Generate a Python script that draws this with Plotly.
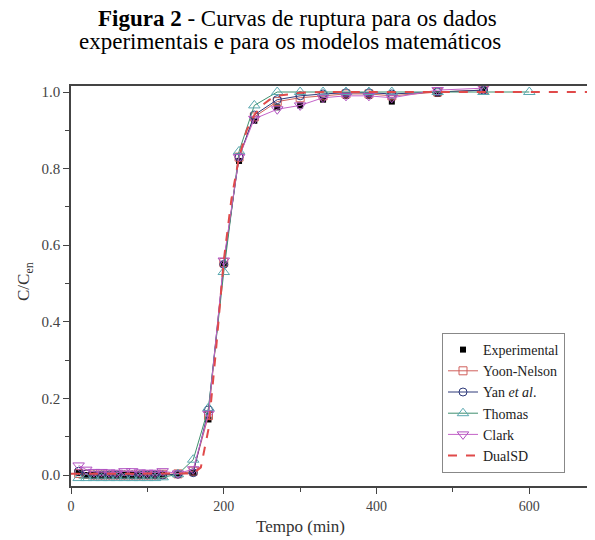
import plotly.graph_objects as go

# ---------------- data ----------------
t = [10, 20, 30, 40, 50, 60, 70, 80, 90, 100, 110, 120, 140, 160, 180, 200,
     220, 240, 270, 300, 330, 360, 390, 420, 480, 540]
t_thomas = t + [600]

experimental = [0.005, 0.0, 0.0, 0.0, 0.0, 0.0, 0.0, 0.0, 0.0, 0.0, 0.0, 0.002,
                0.002, 0.005, 0.145, 0.55, 0.82, 0.925, 0.96, 0.965, 0.98,
                0.99, 0.99, 0.975, 0.995, 1.005]
yoon_nelson = [0.004, 0.002, 0.0, 0.0, 0.0, 0.0, 0.0, 0.0, 0.0, 0.0, 0.0, 0.002,
               0.003, 0.01, 0.155, 0.555, 0.83, 0.935, 0.975, 0.985, 0.99,
               0.995, 0.995, 0.99, 1.0, 1.005]
yan = [0.01, 0.003, 0.0, 0.0, 0.0, 0.0, 0.0, 0.0, 0.0, 0.0, 0.0, 0.0,
       0.002, 0.006, 0.17, 0.55, 0.83, 0.94, 0.98, 0.99, 0.995,
       0.998, 0.998, 0.995, 1.0, 1.005]
thomas = [-0.008, -0.008, -0.008, -0.008, -0.008, -0.008, -0.008, -0.008,
          -0.008, -0.008, -0.008, -0.006, 0.002, 0.04, 0.175, 0.53, 0.845,
          0.965, 1.0, 1.0, 1.0, 1.0, 1.0, 1.0, 1.0, 1.0, 1.0]
clark = [0.025, 0.014, 0.008, 0.008, 0.007, 0.006, 0.01, 0.01, 0.007, 0.006,
         0.006, 0.01, 0.004, 0.015, 0.16, 0.56, 0.83, 0.93, 0.955, 0.965,
         0.985, 0.99, 0.99, 0.985, 1.005, 1.01]

t_dual = [0, 100, 160, 170, 180, 190, 200, 210, 220, 230, 240, 250, 260, 270,
          285, 300, 330, 400, 500, 600, 690]
dualsd = [0.003, 0.003, 0.004, 0.02, 0.12, 0.33, 0.56, 0.72, 0.83, 0.9, 0.94,
          0.965, 0.98, 0.99, 0.995, 0.998, 1.0, 1.0, 1.0, 1.0, 1.0]

x_ticks = [0, 200, 400, 600]
y_ticks = [0.0, 0.2, 0.4, 0.6, 0.8, 1.0]
y_tick_labels = ["0.0", "0.2", "0.4", "0.6", "0.8", "1.0"]

title_line1 = "<b>Figura 2</b> - Curvas de ruptura para os dados"
title_line2 = "experimentais e para os modelos matemáticos"
x_title = "Tempo (min)"
y_title = "C/C<sub>en</sub>"

# ---------------- figure ----------------
SERIF = "Liberation Serif, Times New Roman, serif"
OFF = 8                      # page body margin of the html page
W, H = 595 - OFF, 540 - OFF
ML, MR, MT, MB = 71 - OFF, 0, 86 - OFF, 540 - 486
PW, PH = W - ML - MR, H - MT - MB


def px(xw):   # window x pixel -> paper fraction
    return (xw - OFF - ML) / PW


def py(yw):   # window y pixel -> paper fraction
    return (H - MB - (yw - OFF)) / PH


fig = go.Figure()

fig.add_trace(go.Scatter(
    x=t, y=experimental, mode="markers", name="Experimental",
    marker=dict(symbol="square", size=6, color="black",
                line=dict(color="black", width=0))))
fig.add_trace(go.Scatter(
    x=t, y=yoon_nelson, mode="lines+markers", name="Yoon-Nelson",
    line=dict(color="#d0605c", width=1),
    marker=dict(symbol="square-open", size=8, color="#d0605c",
                line=dict(width=1))))
fig.add_trace(go.Scatter(
    x=t, y=yan, mode="lines+markers", name="Yan <i>et al</i>.",
    line=dict(color="#2e3a7a", width=1),
    marker=dict(symbol="circle-open", size=8, color="#2e3a7a",
                line=dict(width=1))))
fig.add_trace(go.Scatter(
    x=t_thomas, y=thomas, mode="lines+markers", name="Thomas",
    line=dict(color="#3f8f6e", width=1),
    marker=dict(symbol="triangle-up-open", size=10, color="#5aa8b0",
                line=dict(width=1))))
fig.add_trace(go.Scatter(
    x=t, y=clark, mode="lines+markers", name="Clark",
    line=dict(color="#c463c8", width=1),
    marker=dict(symbol="triangle-down-open", size=10, color="#b050c0",
                line=dict(width=1))))
fig.add_trace(go.Scatter(
    x=t_dual, y=dualsd, mode="lines", name="DualSD",
    line=dict(color="#e04a4a", width=2, dash="dash")))

axis_color = "#444444"
fig.update_layout(
    width=W, height=H,
    margin=dict(l=ML, r=MR, t=MT, b=MB, autoexpand=False),
    paper_bgcolor="white", plot_bgcolor="white",
    font=dict(family=SERIF, color="#333333", size=14),
    showlegend=True,
    legend=dict(
        x=px(442), y=py(333),
        xanchor="left", yanchor="top",
        bgcolor="white", bordercolor="#888888", borderwidth=1,
        font=dict(family=SERIF, size=14, color="#222222"),
        itemsizing="trace", tracegroupgap=0),
    annotations=[
        dict(text=title_line1, xref="paper", yref="paper",
             x=px(297), y=py(18.5), borderpad=0,
             xanchor="center", yanchor="middle", showarrow=False,
             font=dict(family=SERIF, size=23, color="black")),
        dict(text=title_line2, xref="paper", yref="paper",
             x=px(290), y=py(42), borderpad=0,
             xanchor="center", yanchor="middle", showarrow=False,
             font=dict(family=SERIF, size=23, color="black")),
        dict(text=x_title, xref="paper", yref="paper",
             x=px(300), y=py(526),
             xanchor="center", yanchor="middle", showarrow=False,
             font=dict(family=SERIF, size=17, color="#333333")),
        dict(text=y_title, xref="paper", yref="paper",
             x=px(25), y=py(282), textangle=-90,
             xanchor="center", yanchor="middle", showarrow=False,
             font=dict(family=SERIF, size=17, color="#333333")),
    ],
)

fig.update_xaxes(
    range=[0, 686], showgrid=False, zeroline=False, automargin=False,
    showline=True, linecolor=axis_color, linewidth=1.5, mirror=True,
    ticks="outside", ticklen=6, tickwidth=1.2, tickcolor=axis_color,
    tickvals=x_ticks, tickfont=dict(size=14, color="#444444"),
    minor=dict(ticks="outside", dtick=100, tick0=0, ticklen=4,
               tickcolor=axis_color, tickwidth=1.2))
fig.update_yaxes(
    range=[-0.0287, 1.0157], showgrid=False, zeroline=False, automargin=False,
    showline=True, linecolor=axis_color, linewidth=1.5, mirror=False,
    ticks="outside", ticklen=6, tickwidth=1.2, tickcolor=axis_color,
    tickvals=y_ticks, ticktext=y_tick_labels,
    tickfont=dict(size=15, color="#444444"),
    minor=dict(ticks="outside", dtick=0.1, tick0=0, ticklen=4,
               tickcolor=axis_color, tickwidth=1.2))

fig.write_html("out.html")
